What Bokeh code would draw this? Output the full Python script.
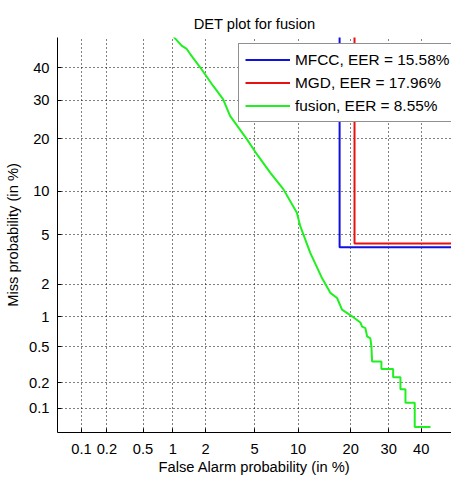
from statistics import NormalDist

from bokeh.plotting import figure
from bokeh.models import FixedTicker, Legend, LegendItem, Range1d
from bokeh.embed import file_html
from bokeh.resources import INLINE

# ---------------- data (percent) ----------------
tick_pct = [0.1, 0.2, 0.5, 1, 2, 5, 10, 20, 30, 40]
tick_labels = ["0.1", "0.2", "0.5", "1", "2", "5", "10", "20", "30", "40"]
axis_min_pct = 0.05
axis_max_pct = 50.0

mfcc_fa = [17.5, 17.5, 60.0]
mfcc_miss = [60.0, 4.03, 4.03]

mgd_fa = [20.9, 20.9, 60.0]
mgd_miss = [60.0, 4.31, 4.31]

fusion_fa = [1.00, 1.21, 1.35, 1.45, 1.79, 2.32, 2.82, 3.22, 4.37, 5.20, 6.50,
             8.03, 9.83, 10.33, 11.91, 14.02, 15.58, 16.96, 18.03, 20.31, 22.33,
             22.76, 23.60, 24.04, 24.90, 25.18, 25.36, 27.91, 27.91, 31.30,
             31.30, 33.49, 33.49, 35.03, 35.03, 37.94, 37.94, 43.04]
fusion_miss = [50.5, 47.3, 46.2, 44.6, 40.2, 34.4, 30.4, 25.7, 19.85, 16.55, 13.03,
               10.29, 7.22, 5.80, 3.64, 2.23, 1.67, 1.50, 1.17, 1.01, 0.88,
               0.80, 0.774, 0.64, 0.61, 0.50, 0.347, 0.347, 0.287, 0.287,
               0.232, 0.232, 0.169, 0.169, 0.117, 0.117, 0.059, 0.059]

legend_labels = ["MFCC, EER = 15.58%", "MGD, EER = 17.96%", "fusion, EER = 8.55%"]
colors = ["#1010e0", "#e81010", "#20f020"]

# ---------------- normal-deviate (probit) scale ----------------
_nd = NormalDist()


def probit(pcts):
    return [_nd.inv_cdf(v / 100.0) for v in pcts]


tick_z = probit(tick_pct)
zmin = probit([axis_min_pct])[0]
zmax = probit([axis_max_pct])[0]

FONT = "Liberation Sans"
FS = "14.7px"

p = figure(width=451, height=477, output_backend="svg", toolbar_location=None,
           x_range=Range1d(zmin, zmax), y_range=Range1d(zmin, zmax),
           min_border_left=57, min_border_right=0, min_border_top=37,
           min_border_bottom=45, title="DET plot for fusion")
p.outline_line_color = None
p.background_fill_color = "white"
p.border_fill_color = "white"

p.title.text_font = FONT
p.title.text_font_size = FS
p.title.text_font_style = "normal"
p.title.align = "center"
p.title.standoff = 11
p.title.text_color = "black"

for ax in (p.xaxis[0], p.yaxis[0]):
    ax.ticker = FixedTicker(ticks=tick_z)
    ax.major_label_overrides = {z: lab for z, lab in zip(tick_z, tick_labels)}
    ax.axis_line_color = "black"
    ax.major_tick_line_color = "black"
    ax.major_tick_in = 4
    ax.major_tick_out = 0
    ax.minor_tick_line_color = None
    ax.major_label_text_font = FONT
    ax.major_label_text_font_size = FS
    ax.major_label_text_color = "black"
    ax.axis_label_text_font = FONT
    ax.axis_label_text_font_size = FS
    ax.axis_label_text_font_style = "normal"
    ax.axis_label_text_color = "black"

p.xaxis.axis_label = "False Alarm probability (in %)"
p.yaxis.axis_label = "Miss probability (in %)"
p.xaxis.major_label_standoff = 11
p.xaxis.axis_label_standoff = 2
p.yaxis.major_label_standoff = 8
p.yaxis.axis_label_standoff = 5

for g in (p.xgrid[0], p.ygrid[0]):
    g.ticker = FixedTicker(ticks=tick_z)
    g.grid_line_color = "black"
    g.grid_line_dash = "1 3"
    g.grid_line_width = 1
    g.grid_line_alpha = 1.0

r1 = p.line(probit(mfcc_fa), probit(mfcc_miss), line_color=colors[0], line_width=2)
r2 = p.line(probit(mgd_fa), probit(mgd_miss), line_color=colors[1], line_width=2)
r3 = p.line(probit(fusion_fa), probit(fusion_miss), line_color=colors[2], line_width=2)

legend = Legend(
    items=[LegendItem(label=legend_labels[0], renderers=[r1]),
           LegendItem(label=legend_labels[1], renderers=[r2]),
           LegendItem(label=legend_labels[2], renderers=[r3])],
    location=(181, 310), padding=6, spacing=4, margin=0,
    glyph_width=45, glyph_height=19, label_height=19, label_width=150,
    label_standoff=5, label_text_font=FONT, label_text_font_size="15.4px",
    label_text_color="black",
    border_line_color="#222222", border_line_width=1,
    background_fill_color="white", background_fill_alpha=1.0,
)
p.add_layout(legend)

open("out.html", "w").write(file_html(p, INLINE))
